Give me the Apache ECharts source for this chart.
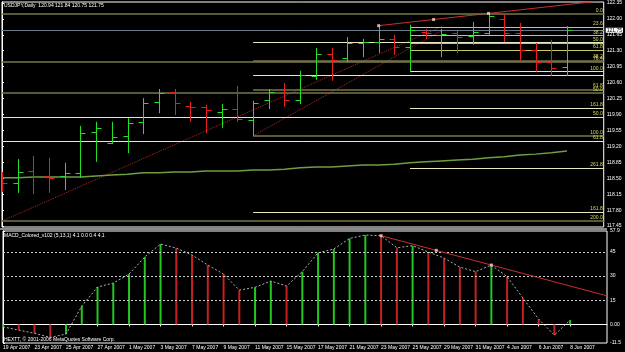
<!DOCTYPE html>
<html><head><meta charset="utf-8">
<script src="https://cdn.jsdelivr.net/npm/echarts@6/dist/echarts.min.js"></script>
<style>html,body{margin:0;padding:0;background:#000}#c{width:625px;height:352px}</style>
</head><body><div id="c"></div>
<script>
// ---------- DATA ----------
const dates = ['19 Apr 2007','20 Apr 2007','23 Apr 2007','24 Apr 2007','25 Apr 2007','26 Apr 2007','27 Apr 2007','30 Apr 2007',
 '1 May 2007','2 May 2007','3 May 2007','4 May 2007','7 May 2007','8 May 2007','9 May 2007','10 May 2007','11 May 2007',
 '14 May 2007','15 May 2007','16 May 2007','17 May 2007','18 May 2007','21 May 2007','22 May 2007','23 May 2007','24 May 2007',
 '25 May 2007','28 May 2007','29 May 2007','30 May 2007','31 May 2007','1 Jun 2007','4 Jun 2007','5 Jun 2007','6 Jun 2007',
 '7 Jun 2007','8 Jun 2007'];
const opens  = [118.48,118.40,118.66,118.55,118.55,118.62,119.52,119.27,119.43,119.74,120.18,120.40,120.09,120.07,119.96,120.02,119.78,120.22,120.37,120.22,120.75,121.23,121.14,121.47,121.49,121.56,121.38,121.71,121.65,121.69,121.63,121.69,122.00,121.69,121.32,121.05,120.94];
const highs  = [118.64,118.92,118.99,118.95,118.84,119.65,119.74,119.74,119.82,120.26,120.46,120.46,120.18,120.11,120.13,120.53,120.20,120.46,120.59,120.86,121.36,121.36,121.60,121.56,121.85,121.65,121.87,121.78,121.78,121.76,121.93,122.12,122.10,121.91,121.47,121.54,121.84];
const lows   = [118.20,118.18,118.15,118.18,118.24,118.51,118.86,119.25,119.05,119.47,119.93,119.89,119.74,119.49,119.60,119.74,119.43,120.02,120.07,120.13,120.66,120.64,121.05,121.16,121.25,121.21,120.84,121.56,121.16,121.25,121.43,121.65,121.49,121.08,120.84,120.75,120.75];
const closes = [118.40,118.64,118.53,118.51,118.62,119.49,119.60,119.41,119.71,120.15,120.37,120.15,120.07,120.00,120.02,119.80,120.15,120.40,120.22,120.77,121.23,121.10,121.47,121.49,121.56,121.38,121.76,121.69,121.67,121.60,121.71,122.07,121.69,121.32,121.05,120.92,121.75];
const maValues = [118.51,118.51,118.53,118.53,118.53,118.53,118.55,118.57,118.59,118.62,118.62,118.64,118.64,118.66,118.66,118.66,118.68,118.68,118.70,118.73,118.75,118.75,118.77,118.79,118.79,118.81,118.84,118.86,118.88,118.90,118.92,118.95,118.97,119.01,119.03,119.06,119.10];
const macdValues = [-1.5,-3.5,-5.5,-8.0,-6.0,11.4,23.2,25.6,31.2,41.8,49.8,47.3,43.0,36.8,31.2,21.3,23.0,26.9,23.8,32.7,44.4,46.7,53.3,55.4,55.0,47.5,48.8,44.9,41.1,35.5,32.7,36.8,29.6,16.4,3.3,-6.6,2.7];
const priceTicks = [117.45,117.80,118.15,118.50,118.85,119.20,119.55,119.90,120.25,120.60,120.95,121.30,121.65,122.00,122.35];
const macdTicks = [57.9,45,30,15,0,-11.5];
const macdLevels = [45,30,15];
const dateTicks = ['19 Apr 2007','23 Apr 2007','25 Apr 2007','27 Apr 2007','1 May 2007','3 May 2007','7 May 2007','9 May 2007',
 '11 May 2007','15 May 2007','17 May 2007','21 May 2007','23 May 2007','25 May 2007','29 May 2007','31 May 2007','4 Jun 2007','6 Jun 2007','8 Jun 2007'];
const bidPrice = 121.75;
// horizontal (fibonacci) levels
const levelPrices = [122.11,121.05,120.38,119.84,119.32,117.56, 121.48,121.09,120.77,120.45,119.43,117.76, 121.81,121.63,121.47,121.32,120.84,120.04,118.73];
const levelStart  = [null,null,null,null,null,null, 16,16,16,16,16,16, 26,26,26,26,26,26,26];
const levelKinds  = ['o','o','o','w','w','o', 'w','o','w','o','o','w', 'y','y','y','y','w','w','w'];
const levelLabels = ['0.0','76.4','50.0','50.0','61.8','200.0', '','38.2','','61.8','100.0','161.8', '23.6','38.2','50.0','61.8','100.0','161.8','261.8'];
// trend lines (bar index, value)
const priceTrendBars = [24,31];
const support1 = [[0,117.56],[28,121.83]];
const support2 = [[16,119.43],[28,121.74]];
const macdTrendBars = [24,31];

// ---------- CHART ----------
const X_MAX = 38.34;
const UP = '#22e022', DOWN = '#e82020';
const kindColor = {o:'#77774c', w:'#e8e8c0', y:'#c8c860'};
const fs = 5, ff = 'Liberation Sans';

function extend(bars, vals) {
  const [a,b] = bars; const va = vals[a], vb = vals[b];
  const s = (vb - va) / (b - a);
  return [[a, va], [X_MAX, va + s * (X_MAX - a)]];
}
function handles(bars, vals) {
  const [a,b] = bars; const m = (a+b)/2;
  return [[a, vals[a]], [m, (vals[a]+vals[b])/2], [b, vals[b]]];
}

const ohlc = dates.map((d,i)=>[i, opens[i], closes[i], lows[i], highs[i]]);
const levelLines = levelPrices.map((p,i)=>{
  const c = kindColor[levelKinds[i]];
  return [{coord:[levelStart[i]===null?0:levelStart[i], p], lineStyle:{color:c, width: levelKinds[i]==='o'?1.5:1, type:'solid'},
           label:{show: !!levelLabels[i], formatter: levelLabels[i]}},
          {coord:[X_MAX, p]}];
});
const tStyle = {color:'#fff', fontSize:fs, fontWeight:'normal', fontFamily:ff};

const chart = echarts.init(document.getElementById('c'), null, {renderer:'canvas'});
chart.setOption({
  backgroundColor:'#000',
  animation:false,
  title:[
    {text:`USDJPY,Daily  ${opens[36].toFixed(2)} ${highs[36].toFixed(2)} ${lows[36].toFixed(2)} ${closes[36].toFixed(2)}`, left:4, top:3, padding:0, textStyle:tStyle},
    {text:'MACD_Colored_v102 (5,13,1) 4.1 0.0 0.4 4.1', left:4, top:233, padding:0, textStyle:tStyle},
    {text:'HEXTT, \u00a9 2001-2006 MetaQuotes Software Corp.', left:4, top:337, padding:0, textStyle:tStyle}
  ],
  grid:[
    {left:2, top:2, width:605, height:225, show:true, borderColor:'#fff', borderWidth:1, backgroundColor:'#000'},
    {left:2, top:231, width:605, height:112, show:true, borderColor:'#fff', borderWidth:1, backgroundColor:'#000'}
  ],
  graphic:[{type:'rect', shape:{x:0,y:228,width:607,height:2}, style:{fill:'#8a8a8a'}, z:100}],
  xAxis:[
    {gridIndex:0, type:'value', min:0, max:X_MAX, axisLine:{show:false}, axisTick:{show:false}, axisLabel:{show:false}, splitLine:{show:false}},
    {gridIndex:1, type:'value', min:0, max:X_MAX, axisLine:{show:true, lineStyle:{color:'#fff'}},
     axisTick:{show:true, length:2, lineStyle:{color:'#fff'}, customValues: dateTicks.map(d=>dates.indexOf(d))},
     axisLabel:{show:true, color:'#fff', fontSize:fs, fontFamily:ff, margin:2, align:'left', customValues: dateTicks.map(d=>dates.indexOf(d)),
       formatter:v=>dates[Math.round(v)]},
     splitLine:{show:false}}
  ],
  yAxis:[
    {gridIndex:0, type:'value', position:'right', min:117.43, max:122.37, scale:true,
     axisLine:{show:true, lineStyle:{color:'#fff'}}, axisTick:{show:true, length:2, lineStyle:{color:'#fff'}, customValues:priceTicks},
     axisLabel:{color:'#fff', fontSize:fs, fontFamily:ff, margin:3, customValues:priceTicks, formatter:v=>v.toFixed(2)},
     splitLine:{show:false}},
    {gridIndex:1, type:'value', position:'right', min:-11.5, max:57.9,
     axisLine:{show:true, lineStyle:{color:'#fff'}}, axisTick:{show:true, length:2, lineStyle:{color:'#fff'}, customValues:macdTicks},
     axisLabel:{color:'#fff', fontSize:fs, fontFamily:ff, margin:3, customValues:macdTicks, formatter:v=> v===0?'0.00':String(v)},
     splitLine:{show:false}}
  ],
  series:[
    {type:'line', xAxisIndex:0, yAxisIndex:0, data: maValues.map((v,i)=>[i,v]), symbol:'none',
     lineStyle:{color:'#6e9e44', width:1.5}, z:3,
     markLine:{silent:true, symbol:'none', animation:false,
       lineStyle:{type:'solid'},
       label:{position:'insideEndTop', color:'#d8d860', fontSize:fs, fontFamily:ff, distance:1},
       data: levelLines.concat([[{coord:[0,bidPrice], lineStyle:{color:'#6c7c8c', width:1, type:'solid'},
              label:{show:true, position:'end', formatter: bidPrice.toFixed(2), color:'#000', backgroundColor:'#fff', padding:[0,1], distance:2}},
             {coord:[X_MAX,bidPrice]}]])}
    },
    {type:'line', xAxisIndex:0, yAxisIndex:0, data:support1, symbol:'none', lineStyle:{color:'#b02828', width:1, type:'dotted'}, z:2},
    {type:'line', xAxisIndex:0, yAxisIndex:0, data:support2, symbol:'none', lineStyle:{color:'#b02828', width:1, type:'dotted'}, z:2},
    {type:'line', xAxisIndex:0, yAxisIndex:0, data:extend(priceTrendBars, highs), symbol:'none', lineStyle:{color:'#c83030', width:1}, z:4},
    {type:'scatter', xAxisIndex:0, yAxisIndex:0, data:handles(priceTrendBars, highs), symbol:'rect', symbolSize:3, itemStyle:{color:'#ffd0d0'}, z:6},
    {type:'custom', xAxisIndex:0, yAxisIndex:0, data:ohlc, clip:true, z:5,
     renderItem:(params, api)=>{
       const i = api.value(0);
       const o = api.coord([i, api.value(1)]), c = api.coord([i, api.value(2)]);
       const l = api.coord([i, api.value(3)]), h = api.coord([i, api.value(4)]);
       const x = Math.round(o[0]) + 0.5;
       const col = api.value(2) >= api.value(1) ? UP : DOWN;
       const st = {stroke:col, lineWidth:1};
       return {type:'group', children:[
         {type:'line', shape:{x1:x, y1:h[1], x2:x, y2:l[1]}, style:st},
         {type:'line', shape:{x1:x-5, y1:Math.round(o[1])+0.5, x2:x, y2:Math.round(o[1])+0.5}, style:st},
         {type:'line', shape:{x1:x, y1:Math.round(c[1])+0.5, x2:x+5, y2:Math.round(c[1])+0.5}, style:st}
       ]};
     }},
    // MACD panel
    {type:'bar', xAxisIndex:1, yAxisIndex:1, barWidth:2, data: macdValues.map((v,i)=>({value:[i,v],
        itemStyle:{color: (i===0 || v >= macdValues[i-1]) ? '#20c820' : '#c82020'}})), z:3,
     markLine:{silent:true, symbol:'none', label:{show:false}, lineStyle:{color:'#d0d0d0', type:[2,2], width:1},
       data: macdLevels.map(v=>({yAxis:v}))}},
    {type:'line', xAxisIndex:1, yAxisIndex:1, data: macdValues.map((v,i)=>[i,v]), symbol:'none',
     lineStyle:{color:'#b0b0b0', width:1, type:[2,2]}, z:4},
    {type:'line', xAxisIndex:1, yAxisIndex:1, data: extend(macdTrendBars, macdValues), symbol:'none', lineStyle:{color:'#c83030', width:1}, z:5},
    {type:'scatter', xAxisIndex:1, yAxisIndex:1, data: handles(macdTrendBars, macdValues), symbol:'rect', symbolSize:3, itemStyle:{color:'#ffd0d0'}, z:6}
  ]
});
</script></body></html>
